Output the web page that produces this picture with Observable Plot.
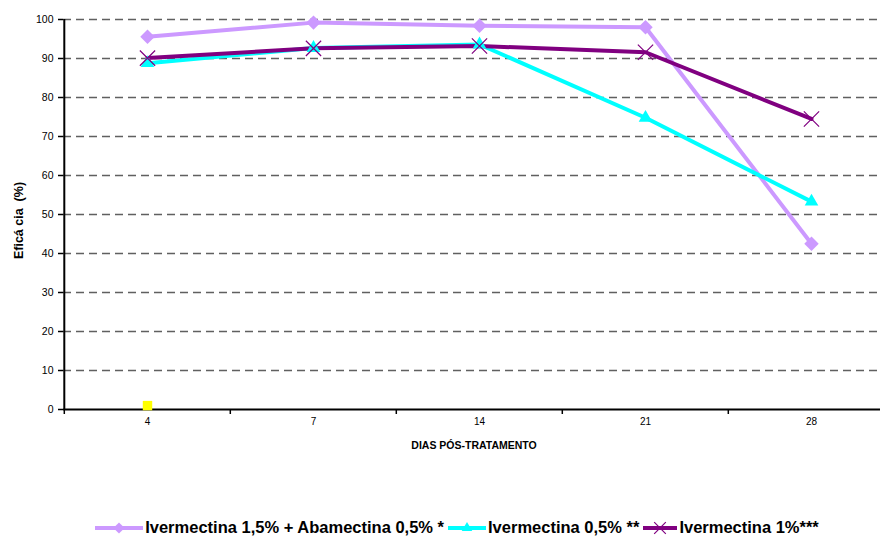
<!DOCTYPE html>
<html>
<head>
<meta charset="utf-8">
<script src="https://cdn.jsdelivr.net/npm/d3@7"></script>
<script src="https://cdn.jsdelivr.net/npm/@observablehq/plot@0.6"></script>
<style>
  body { margin: 0; background: #fff; font-family: "Liberation Sans", Arial, sans-serif; }
  #wrap { position: relative; width: 886px; height: 540px; overflow: hidden; }
  #legend { position: absolute; left: 0; top: 518px; width: 886px; box-sizing: border-box; padding-left: 32px; display: flex; justify-content: center; align-items: center; font-weight: bold; font-size: 16.5px; color: #000; }
  .item { display: flex; align-items: center; margin-right: 4px; }
  .item svg { margin-right: 2px; }
</style>
</head>
<body>
<div id="wrap"><div id="chart"></div><div id="legend"></div></div>
<script>
const categories = ["4", "7", "14", "21", "28"];
const seriesNames = ["Ivermectina 1,5% + Abamectina 0,5% *", "Ivermectina 0,5% **", "Ivermectina 1%***"];
const seriesColors = ["#CC99FF", "#00FFFF", "#800080"];
const seriesSymbols = ["diamond2", "triangle2", "times"];
const valuesA = [95.6, 99.2, 98.4, 98.0, 42.5];
const valuesB = [88.8, 92.7, 93.6, 74.8, 53.3];
const valuesC = [90.1, 92.6, 93.2, 91.6, 74.5];
const extraCategory = ["4"];
const extraValue = [1];
const yTicks = [0, 10, 20, 30, 40, 50, 60, 70, 80, 90, 100];
const gridTicks = [10, 20, 30, 40, 50, 60, 70, 80, 90, 100];

const allValues = [valuesA, valuesB, valuesC];
const rows = [];
allValues.forEach((vals, s) => vals.forEach((v, i) => rows.push({series: seriesNames[s], x: categories[i], y: v})));
const extra = extraCategory.map((c, i) => ({x: c, y: extraValue[i]}));

const xRange = [63, 895];
const bw = (xRange[1] - xRange[0]) / categories.length;

const lineMarks = [];
seriesNames.forEach((name, s) => {
  const data = rows.filter(r => r.series === name);
  lineMarks.push(Plot.line(data, {x: "x", y: "y", stroke: seriesColors[s], strokeWidth: 4, curve: "linear"}));
});
const dotMarks = [
  Plot.dot(rows.filter(r => r.series === seriesNames[0]), {x: "x", y: "y", symbol: "diamond2", fill: seriesColors[0], r: 6.5}),
  Plot.dot(rows.filter(r => r.series === seriesNames[1]), {x: "x", y: "y", symbol: "triangle2", fill: seriesColors[1], r: 6.5}),
  Plot.dot(rows.filter(r => r.series === seriesNames[2]), {x: "x", y: "y", symbol: "times", stroke: seriesColors[2], strokeWidth: 1.2, r: 7}),
  Plot.dot(extra, {x: "x", y: "y", symbol: "square2", fill: "#FFFF00", r: 6})
];

const chart = Plot.plot({
  width: 880,
  height: 540,
  marginLeft: 63,
  marginRight: 0,
  marginTop: 19,
  marginBottom: 131,
  x: {type: "band", domain: categories, range: xRange, padding: 0},
  y: {domain: [0, 100], range: [409, 19]},
  style: {fontFamily: "'Liberation Sans', Arial, sans-serif", fontSize: "10px", color: "#000", background: "#fff", overflow: "hidden"},
  marks: [
    Plot.ruleY(gridTicks, {stroke: "#444", strokeOpacity: 0.85, strokeWidth: 1.3, strokeDasharray: "8,5"}),
    Plot.ruleX([categories[0]], {y1: 0, y2: 100, dx: -bw / 2, stroke: "#000", strokeWidth: 2}),
    Plot.ruleY([0], {stroke: "#000", strokeWidth: 2}),
    Plot.axisY({ticks: yTicks, tickSize: 5, tickPadding: 5, label: null, strokeWidth: 1.5, fontSize: 10.5}),
    Plot.axisX({ticks: categories, tickSize: 5, dx: -bw / 2, tickFormat: () => "", label: null, strokeWidth: 1.5}),
    Plot.axisX({ticks: categories, tickSize: 0, tickPadding: 8, label: null, fontSize: 10}),
    Plot.text(["DIAS PÓS-TRATAMENTO"], {frameAnchor: "bottom", dx: 2, dy: 39, fontWeight: "bold", fontSize: 10.5}),
    Plot.text(["Eficá cia  (%)"], {frameAnchor: "left", textAnchor: "middle", rotate: -90, dx: -45, dy: 6, fontWeight: "bold", fontSize: 12.5}),
    ...lineMarks,
    ...dotMarks
  ]
});
document.getElementById("chart").appendChild(chart);

// legend
const legend = d3.select("#legend");
const sampleWidths = [48, 38, 34];
const symbolTypes = {diamond2: d3.symbolDiamond2, triangle2: d3.symbolTriangle2, times: d3.symbolTimes};
seriesNames.forEach((name, s) => {
  const item = legend.append("div").attr("class", "item");
  const w = sampleWidths[s];
  const svg = item.append("svg").attr("width", w).attr("height", 16);
  svg.append("line").attr("x1", 0).attr("x2", w).attr("y1", 8).attr("y2", 8)
    .attr("stroke", seriesColors[s]).attr("stroke-width", 4);
  const sym = d3.symbol().type(symbolTypes[seriesSymbols[s]]).size(seriesSymbols[s] === "times" ? 90 : 80);
  const p = svg.append("path").attr("d", sym()).attr("transform", `translate(${w / 2},8)`);
  if (seriesSymbols[s] === "times") p.attr("fill", "none").attr("stroke", seriesColors[s]).attr("stroke-width", 1.2);
  else p.attr("fill", seriesColors[s]);
  item.append("span").text(name);
});
</script>
</body>
</html>
